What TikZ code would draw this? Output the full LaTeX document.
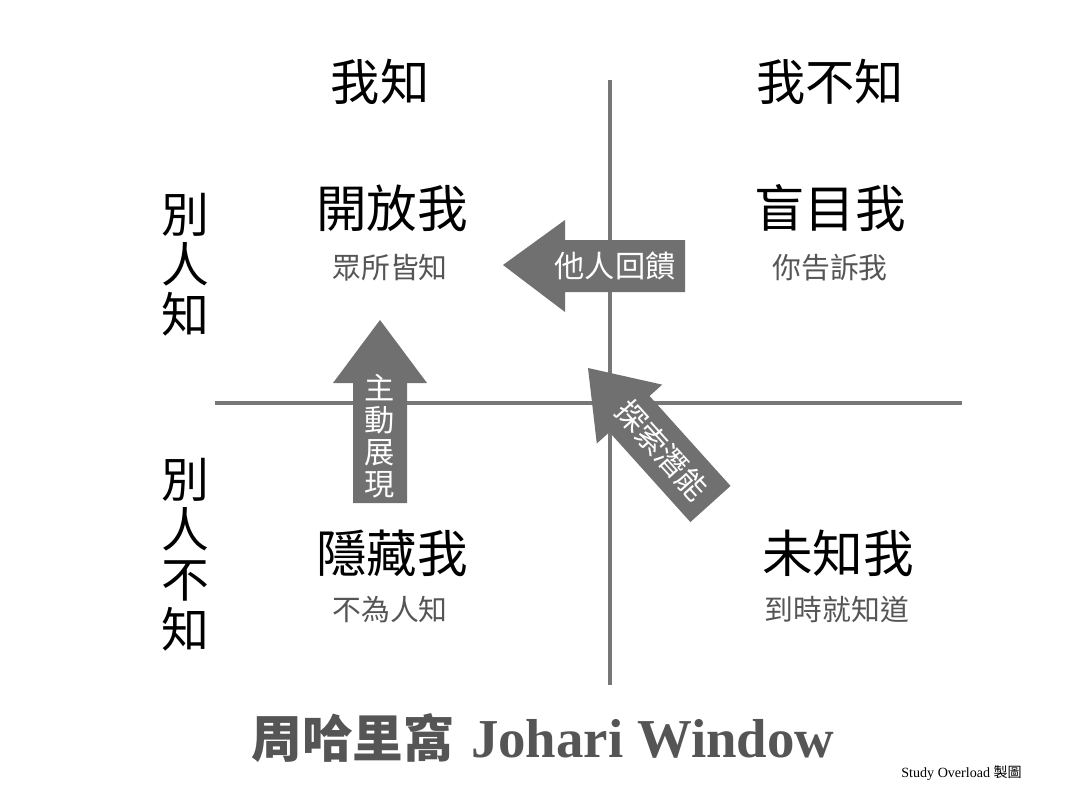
\documentclass[tikz,border=0pt]{standalone}
\usepackage{fontspec}
\setmainfont{Liberation Serif}
\newfontfamily\cjk{Noto Sans CJK TC}
\usetikzlibrary{positioning}
\definecolor{axisgray}{HTML}{777777}
\definecolor{arrowgray}{HTML}{707070}
\definecolor{textgray}{HTML}{555555}
\tikzset{
  axisline/.style={draw=axisgray, line width=2.9pt},
  bigarrow/.style={fill=arrowgray},
  header/.style={font=\cjk\fontsize{35}{40}\selectfont, inner sep=0pt},
  selfname/.style={font=\cjk\fontsize{36}{40}\selectfont, inner sep=0pt},
  selfnote/.style={font=\cjk\fontsize{20.5}{24}\selectfont, text=textgray, inner sep=0pt},
  sidelabel/.style={font=\cjk\fontsize{34}{35.6}\selectfont, align=center, inner sep=0pt},
  arrowtext/.style={font=\cjk\fontsize{21.5}{22.8}\selectfont, text=white, align=center, inner sep=0pt},
}
\begin{document}
\begin{tikzpicture}[x=0.025cm, y=-0.025cm]
  \useasboundingbox[fill=white] (0,0) rectangle (1080,810);
  % axes
  \coordinate (vtop) at (610,80);
  \coordinate (vbot) at (610,685);
  \coordinate (hleft) at (215,403);
  \coordinate (hright) at (962,403);
  \draw[axisline] (vtop) -- (vbot);
  \draw[axisline] (hleft) -- (hright);
  % headers
  \node[header] (known) at (380,82) {我知};
  \node[header] (unknown) at (830,82) {我不知};
  \node[sidelabel] (othersknow) at (185,265) {別\\人\\知};
  \node[sidelabel] (othersnot) at (185,555) {別\\人\\不\\知};
  % quadrants
  \node[selfname] (open) at (392,208) {開放我};
  \node[selfnote] (opennote) at (390,268) {眾所皆知};
  \node[selfname] (blind) at (830,208) {盲目我};
  \node[selfnote] (blindnote) at (830,268) {你告訴我};
  \node[selfname] (hidden) at (392,553) {隱藏我};
  \node[selfnote] (hiddennote) at (390,610) {不為人知};
  \node[selfname] (unknownself) at (838,553) {未知我};
  \node[selfnote] (unknownnote) at (837,610) {到時就知道};
  % arrows
  \fill[bigarrow] (503,265) -- (565,220) -- (565,240) -- (685,240) -- (685,292)
    -- (565,292) -- (565,312) -- cycle;
  \node[arrowtext] (feedback) at (615,266) {他人回饋};
  \fill[bigarrow] (380,320) -- (427,383) -- (407,383) -- (407,503) -- (353,503)
    -- (353,383) -- (333,383) -- cycle;
  \node[arrowtext] (disclose) at (380,436) {主\\動\\展\\現};
  \begin{scope}[shift={(588,368)}, rotate=-48]
    \fill[bigarrow] (0,0) -- (62,44) -- (62,27) -- (183,27) -- (183,-27)
      -- (62,-27) -- (62,-44) -- cycle;
  \end{scope}
  \node[arrowtext, rotate=-48] (explore) at (662,450) {探索潛能};
  % title
  \node[inner sep=0pt, text=textgray] (title) at (543,738)
    {{\cjk\bfseries\fontsize{36}{40}\selectfont 周哈里窩}\hspace{12pt}{\bfseries\fontsize{39}{40}\selectfont Johari Window}};
  \node[inner sep=0pt, anchor=east] (credit) at (1022,773)
    {\fontsize{10}{12}\selectfont Study Overload {\cjk 製圖}};
\end{tikzpicture}
\end{document}
